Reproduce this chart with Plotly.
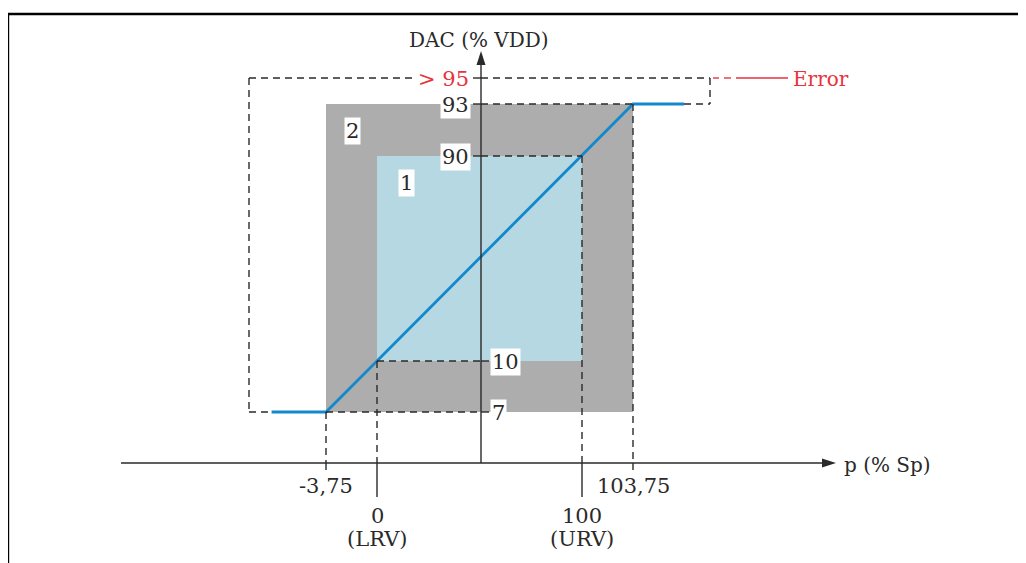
import numpy as np
import plotly.graph_objects as go

# ---------------- data ----------------
p_breaks = [-3.75, 0, 100, 103.75]            # pressure, % of span
p_tick_labels = ["-3,75", "0", "100", "103,75"]
p_tick_sub = ["", "(LRV)", "(URV)", ""]
dac_breaks = [7, 10, 90, 93, 95]               # DAC output, % VDD
dac_tick_labels = ["7", "10", "90", "93", "> 95"]
curve_p = [-7.75, -3.75, 0, 100, 103.75, 107.5]
curve_dac = [7, 7, 10, 90, 93, 93]
zone_outer = {"p": [-3.75, 103.75], "dac": [7, 93], "label": "2"}
zone_inner = {"p": [0, 100], "dac": [10, 90], "label": "1"}
error_label = "Error"
x_title = "p (% Sp)"
y_title = "DAC (% VDD)"

# ---------------- schematic (piecewise) scales ----------------
X_PX = [326, 377, 582, 633]
Y_PX = [412, 361, 156, 104, 78]


def pscale(v, dom, rng):
    v = np.atleast_1d(np.asarray(v, float))
    out = np.interp(v, dom, rng)
    s0 = (rng[1] - rng[0]) / (dom[1] - dom[0])
    s1 = (rng[-1] - rng[-2]) / (dom[-1] - dom[-2])
    lo, hi = v < dom[0], v > dom[-1]
    out[lo] = rng[0] + (v[lo] - dom[0]) * s0
    out[hi] = rng[-1] + (v[hi] - dom[-1]) * s1
    return out


def sx(v):
    r = pscale(v, p_breaks, X_PX)
    return r if r.size > 1 else float(r[0])


def sy(v):
    r = pscale(v, dac_breaks, Y_PX)
    return r if r.size > 1 else float(r[0])


AX_X = 481   # vertical axis position
AX_Y = 463   # horizontal axis position
ERR_L = 249
ERR_R = 710

GRAY = "#adadad"
LBLUE = "#b5d8e2"
BLUE = "#1388cc"
RED = "#e8333c"
INK = "#2a2a2a"
FONT = "DejaVu Serif"
DASH = "7px,5px"

fig = go.Figure()
shapes = []


def line(x0, y0, x1, y1, dash=None, color=INK, width=1.4):
    d = dict(type="line", x0=x0, y0=y0, x1=x1, y1=y1, xref="x", yref="y",
             line=dict(color=color, width=width))
    if dash:
        d["line"]["dash"] = dash
    shapes.append(d)


# zones
shapes.append(dict(type="rect", xref="x", yref="y",
                   x0=sx(zone_outer["p"][0]), x1=sx(zone_outer["p"][1]),
                   y0=sy(zone_outer["dac"][0]), y1=sy(zone_outer["dac"][1]),
                   fillcolor=GRAY, line=dict(width=0), layer="below"))
shapes.append(dict(type="rect", xref="x", yref="y",
                   x0=sx(zone_inner["p"][0]), x1=sx(zone_inner["p"][1]),
                   y0=sy(zone_inner["dac"][0]), y1=sy(zone_inner["dac"][1]),
                   fillcolor=LBLUE, line=dict(width=0), layer="below"))

# frame
line(8, 14, 1040, 14, color="#000", width=2.4)
line(8, 14, 8, 580, color="#000", width=2.4)

# axes
line(121, AX_Y, 826, AX_Y, color=INK, width=1.4)
line(AX_X, AX_Y, AX_X, 60, color=INK, width=1.4)
shapes.append(dict(type="path", xref="x", yref="y",
                   path=f"M {AX_X},{51} L {AX_X-4.5},{65} L {AX_X+4.5},{65} Z",
                   fillcolor=INK, line=dict(width=0)))
shapes.append(dict(type="path", xref="x", yref="y",
                   path=f"M 836,{AX_Y} L 822,{AX_Y-4.5} L 822,{AX_Y+4.5} Z",
                   fillcolor=INK, line=dict(width=0)))

# vertical guides from curve to p axis
for pv, dv in zip(p_breaks, [7, 10, 90, 93]):
    line(sx(pv), sy(dv), sx(pv), AX_Y, dash=DASH)
    long_tick = pv in (0, 100)
    line(sx(pv), AX_Y, sx(pv), AX_Y + (34 if long_tick else 7))

# horizontal guides to DAC axis
line(sx(-3.75), sy(7), AX_X, sy(7), dash=DASH)
line(AX_X, sy(7), AX_X + 8, sy(7))
line(sx(0), sy(10), AX_X, sy(10), dash=DASH)
line(AX_X, sy(10), AX_X + 8, sy(10))
line(AX_X, sy(90), sx(100), sy(90), dash=DASH)
line(AX_X - 8, sy(90), AX_X, sy(90))
line(AX_X, sy(93), sx(103.75), sy(93), dash=DASH)
line(AX_X - 8, sy(93), AX_X, sy(93))

# error boxes (95 %)
line(ERR_L, sy(95), 418, sy(95), dash=DASH)
line(AX_X - 8, sy(95), AX_X, sy(95))
line(AX_X, sy(95), ERR_R, sy(95), dash=DASH)
line(ERR_L, sy(95), ERR_L, sy(7), dash=DASH)
line(ERR_L, sy(7), sx(curve_p[0]), sy(7), dash=DASH)
line(ERR_R, sy(95), ERR_R, sy(93), dash=DASH)
line(sx(curve_p[-1]), sy(93), ERR_R, sy(93), dash=DASH)
# red leader to the "Error" label
line(713, sy(95), 719, sy(95), color=RED, width=1.4)
line(724, sy(95), 731, sy(95), color=RED, width=1.4)
line(736, sy(95), 788, sy(95), color=RED, width=1.4)

# output curve
fig.add_trace(go.Scatter(x=sx(curve_p), y=sy(curve_dac), mode="lines",
                         line=dict(color=BLUE, width=2.8), hoverinfo="skip",
                         showlegend=False))

ann = []


def text(x, y, s, xanchor="center", color=INK, bg=None, size=21):
    a = dict(x=x, y=y, xref="x", yref="y", text=s, showarrow=False,
             xanchor=xanchor, yanchor="middle",
             font=dict(family=FONT, size=size, color=color))
    if bg:
        a["bgcolor"] = bg
        a["borderpad"] = 1
    ann.append(a)


# DAC tick labels
text(AX_X - 10, sy(93) + 1, dac_tick_labels[3], xanchor="right", bg="white")
text(AX_X - 10, sy(90) + 1, dac_tick_labels[2], xanchor="right", bg="white")
text(AX_X - 10, sy(95) + 1, dac_tick_labels[4], xanchor="right", color=RED, bg="white")
text(AX_X + 9, sy(10) + 1, dac_tick_labels[1], xanchor="left", bg="white")
text(AX_X + 9, sy(7) + 1, dac_tick_labels[0], xanchor="left", bg="white")

# p tick labels
text(sx(p_breaks[0]), 486, p_tick_labels[0])
text(sx(p_breaks[3]), 486, p_tick_labels[3])
for i in (1, 2):
    text(sx(p_breaks[i]), 516, p_tick_labels[i])
    text(sx(p_breaks[i]), 539, p_tick_sub[i])

# zone labels
text(sx(zone_outer["p"][0]) + 26, sy(zone_outer["dac"][1]) + 27, zone_outer["label"], bg="white")
text(sx(zone_inner["p"][0]) + 29, sy(zone_inner["dac"][1]) + 27, zone_inner["label"], bg="white")

# titles
text(AX_X - 2, 40, y_title, size=20)
text(842, 465, x_title, xanchor="left", size=20)
text(791, sy(95) + 1, error_label, xanchor="left", color=RED, size=20)

# page body has an 8px margin: offset the ranges so coordinates match page pixels
OFF = 8
fig.update_layout(
    width=1026, height=563, autosize=False,
    margin=dict(l=0, r=0, t=0, b=0),
    paper_bgcolor="white", plot_bgcolor="white",
    xaxis=dict(range=[OFF, 1026 + OFF], visible=False, fixedrange=True),
    yaxis=dict(range=[563 + OFF, OFF], visible=False, fixedrange=True),
    shapes=shapes, annotations=ann, showlegend=False,
)
fig.write_html("out.html", config={"displayModeBar": False})
